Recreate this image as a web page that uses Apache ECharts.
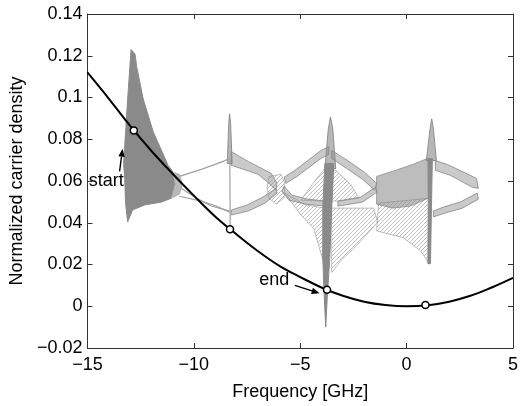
<!DOCTYPE html>
<html>
<head>
<meta charset="utf-8">
<script src="https://cdn.jsdelivr.net/npm/echarts@6/dist/echarts.min.js"></script>
<style>
  html, body { margin: 0; padding: 0; background: #fff; }
  #chart { width: 526px; height: 406px; }
</style>
</head>
<body>
<div id="chart"></div>
<script>
const FONT = '"Liberation Sans", Arial, Helvetica, sans-serif';

// ---- axis ticks ----
const xTickLabels = ['\u221215', '\u221210', '\u22125', '0', '5'];
const yTickLabels = ['\u22120.02', '0', '0.02', '0.04', '0.06', '0.08', '0.1', '0.12', '0.14'];

// ---- locking threshold curve (frequency detuning vs. carrier density) ----
const curveFreq = [-15, -14, -13, -12, -11, -10, -9, -8, -7, -6, -5, -4, -3, -2, -1, 0, 1, 2, 3, 4, 5];
const curveDensity = [0.1120, 0.0995, 0.0865, 0.0745, 0.0635, 0.0530, 0.0430, 0.0345, 0.0265, 0.0195,
                      0.0140, 0.0090, 0.0050, 0.0022, 0.0006, 0.0000, 0.0005, 0.0022, 0.0050, 0.0090, 0.0136];

// ---- operating points on the curve ----
const pointFreq = [-12.82, -8.30, -3.74, 0.885];
const pointDensity = [0.0842, 0.0369, 0.0079, 0.0006];

// ---- trajectory envelopes [frequency, density] ----
// first stage (start): dense sheet of trajectories
const startCloud = [[-12.95, 0.1230], [-12.76, 0.1207], [-12.69, 0.1150], [-12.38, 0.0993], [-11.91, 0.0836],
  [-11.21, 0.0675], [-10.96, 0.0641], [-10.87, 0.0584], [-11.05, 0.0518], [-11.52, 0.0499], [-12.32, 0.0485],
  [-12.88, 0.0461], [-13.11, 0.0404], [-13.21, 0.0494], [-13.25, 0.0613], [-13.30, 0.0684], [-13.11, 0.0993]];
const startFringe = [[-10.96, 0.0641], [-10.68, 0.0632], [-10.54, 0.0584], [-10.68, 0.0537], [-11.05, 0.0518], [-10.87, 0.0584]];

// second stage
const s2UpperLeft = [[-10.68, 0.0622], [-9.65, 0.0656], [-8.62, 0.0694], [-8.32, 0.0708]];
const s2LowerLeftA = [[-10.59, 0.0565], [-9.88, 0.0518], [-9.18, 0.0480], [-8.32, 0.0456]];
const s2LowerLeftB = [[-10.68, 0.0527], [-9.65, 0.0504], [-8.95, 0.0480], [-8.32, 0.0451]];
const s2Stem = [[-8.31, 0.0708], [-8.29, 0.0371]];
const s2Spike = [[-8.43, 0.0684], [-8.36, 0.0874], [-8.32, 0.0922], [-8.27, 0.0874], [-8.20, 0.0684]];
const s2UpperRight = [[-8.24, 0.0741], [-7.45, 0.0694], [-6.37, 0.0637], [-6.09, 0.0589], [-6.14, 0.0556],
  [-6.47, 0.0589], [-6.98, 0.0632], [-7.78, 0.0660], [-8.24, 0.0675]];
const s2LowerRight = [[-6.14, 0.0565], [-6.75, 0.0523], [-7.50, 0.0485], [-8.24, 0.0461], [-8.24, 0.0437],
  [-7.45, 0.0456], [-6.65, 0.0494], [-6.09, 0.0542]];
const knot = [[-6.47, 0.0622], [-5.90, 0.0632], [-5.72, 0.0589], [-5.76, 0.0518], [-6.14, 0.0489], [-6.47, 0.0518], [-6.56, 0.0565]];

// third stage (end)
const s3Spike = [[-3.84, 0.0660], [-3.68, 0.0850], [-3.58, 0.0907], [-3.47, 0.0850], [-3.33, 0.0660]];
const s3Stem = [[-3.84, 0.0684], [-3.94, 0.0470], [-3.94, 0.0233], [-3.87, 0.0043], [-3.80, -0.0100],
  [-3.73, 0.0043], [-3.61, 0.0233], [-3.52, 0.0470], [-3.42, 0.0684]];
const s3UpperLeft = [[-5.76, 0.0618], [-5.25, 0.0651], [-4.03, 0.0746], [-3.66, 0.0765], [-3.66, 0.0727],
  [-4.03, 0.0708], [-5.15, 0.0622], [-5.67, 0.0589]];
const s3UpperRight = [[-3.52, 0.0746], [-2.77, 0.0698], [-1.97, 0.0641], [-1.41, 0.0589], [-1.50, 0.0556],
  [-2.07, 0.0608], [-2.81, 0.0660], [-3.52, 0.0708]];
const s3LowerRight = [[-1.46, 0.0570], [-2.16, 0.0523], [-3.23, 0.0504], [-3.23, 0.0480], [-2.07, 0.0499], [-1.41, 0.0546]];
const s3LowerLeft = [[-5.76, 0.0575], [-5.39, 0.0532], [-4.64, 0.0513], [-3.84, 0.0504], [-3.84, 0.0480],
  [-4.73, 0.0489], [-5.53, 0.0508], [-5.86, 0.0551]];
const s3Bell = [[-4.97, 0.0508], [-4.36, 0.0594], [-3.84, 0.0660], [-3.33, 0.0651], [-2.63, 0.0584],
  [-2.25, 0.0518], [-3.09, 0.0504], [-4.03, 0.0504]];
const s3FunnelLeft = [[-5.72, 0.0542], [-4.97, 0.0437], [-4.36, 0.0371], [-3.94, 0.0223], [-3.84, 0.0470], [-4.73, 0.0485]];
const s3FunnelRight = [[-3.52, 0.0470], [-1.55, 0.0470], [-1.36, 0.0404], [-2.30, 0.0295], [-3.09, 0.0219], [-3.52, 0.0162]];

// fourth stage
const s4Cloud = [[-1.41, 0.0622], [-0.52, 0.0651], [0.28, 0.0679], [0.98, 0.0708], [1.03, 0.0518],
  [0.18, 0.0480], [-0.66, 0.0470], [-1.41, 0.0489]];
const s4Fan = [[-1.32, 0.0494], [-1.41, 0.0361], [-0.15, 0.0328], [0.65, 0.0266], [1.07, 0.0204], [1.12, 0.0518]];
const s4Spike = [[0.93, 0.0698], [1.10, 0.0850], [1.18, 0.0898], [1.26, 0.0850], [1.40, 0.0698]];
const s4Stem = [[1.03, 0.0708], [1.00, 0.0204], [1.12, 0.0204], [1.21, 0.0708]];
const s4RightUpper = [[1.35, 0.0698], [1.92, 0.0679], [3.28, 0.0613], [3.37, 0.0565], [3.09, 0.0570],
  [2.06, 0.0627], [1.35, 0.0651]];
const s4RightLower = [[3.32, 0.0542], [2.52, 0.0499], [1.73, 0.0475], [1.26, 0.0456], [1.26, 0.0428],
  [1.82, 0.0447], [2.62, 0.0470], [3.37, 0.0513]];

// ---- annotations ----
const startText = { text: 'start', at: [-14.94, 0.0599] };
const startArrow = { from: [-13.49, 0.0646], to: [-13.35, 0.0755] };
const endText = { text: 'end', at: [-6.93, 0.0124] };
const endArrow = { from: [-5.25, 0.0100], to: [-4.09, 0.0062] };

// hatch texture for the sparse line fans
function hatchPattern(alpha) {
  const c = document.createElement('canvas');
  c.width = 4; c.height = 4;
  const g = c.getContext('2d');
  g.strokeStyle = 'rgba(128,128,128,' + alpha + ')';
  g.lineWidth = 1;
  g.beginPath(); g.moveTo(0, 4); g.lineTo(4, 0); g.stroke();
  return { image: c, repeat: 'repeat' };
}

const STYLES = {
  dense:  { fill: '#8a8a8a', stroke: '#8a8a8a', lineWidth: 1 },
  fringe: { fill: '#b8b8b8', stroke: '#b0b0b0', lineWidth: 1 },
  mid:    { fill: 'rgba(135,135,135,0.55)', stroke: 'rgba(140,140,140,0.8)', lineWidth: 1 },
  band:   { fill: 'rgba(150,150,150,0.5)', stroke: 'rgba(140,140,140,0.85)', lineWidth: 1 },
  spike:  { fill: 'rgba(135,135,135,0.6)', stroke: 'rgba(135,135,135,0.9)', lineWidth: 1 },
  hatch:  { fill: hatchPattern(0.5), stroke: 'rgba(150,150,150,0.6)', lineWidth: 1 },
  strand: { fill: null, stroke: '#a0a0a0', lineWidth: 1.2 }
};

function shapeSeries(points, kind, open) {
  const st = STYLES[kind];
  return {
    type: 'custom', coordinateSystem: 'cartesian2d', silent: true, z: 2,
    data: points, encode: { x: 0, y: 1 },
    renderItem(params, api) {
      if (params.dataIndex !== 0) return null;
      const pts = points.map(p => api.coord(p));
      return {
        type: open ? 'polyline' : 'polygon',
        shape: { points: pts },
        style: { fill: open ? null : st.fill, stroke: st.stroke, lineWidth: st.lineWidth }
      };
    }
  };
}

function annotationSeries(label, arrow) {
  return {
    type: 'custom', coordinateSystem: 'cartesian2d', silent: true, z: 5,
    data: [label.at], encode: { x: 0, y: 1 },
    renderItem(params, api) {
      const t = api.coord(label.at);
      const a = api.coord(arrow.from);
      const b = api.coord(arrow.to);
      const dx = b[0] - a[0], dy = b[1] - a[1];
      const len = Math.hypot(dx, dy), ux = dx / len, uy = dy / len;
      const hl = 8, hw = 3.2;
      const base = [b[0] - ux * hl, b[1] - uy * hl];
      return {
        type: 'group',
        children: [
          { type: 'text', x: t[0], y: t[1],
            style: { text: label.text, fill: '#000', font: '18px ' + FONT, align: 'left', verticalAlign: 'middle' } },
          { type: 'line', shape: { x1: a[0], y1: a[1], x2: base[0], y2: base[1] },
            style: { stroke: '#000', lineWidth: 1.4 } },
          { type: 'polygon',
            shape: { points: [b, [base[0] - uy * hw, base[1] + ux * hw], [base[0] + uy * hw, base[1] - ux * hw]] },
            style: { fill: '#000' } }
        ]
      };
    }
  };
}

const polygons = [
  [startCloud, 'dense'], [startFringe, 'fringe'],
  [knot, 'hatch'],
  [s2UpperRight, 'band'], [s2LowerRight, 'band'], [s2Spike, 'spike'],
  [s3Bell, 'hatch'], [s3FunnelLeft, 'hatch'], [s3FunnelRight, 'hatch'],
  [s3UpperLeft, 'band'], [s3UpperRight, 'band'], [s3LowerRight, 'band'], [s3LowerLeft, 'band'],
  [s3Spike, 'spike'], [s3Stem, 'dense'],
  [s4Fan, 'hatch'], [s4Cloud, 'mid'],
  [s4RightUpper, 'band'], [s4RightLower, 'band'], [s4Spike, 'spike'], [s4Stem, 'dense']
];
const strands = [s2UpperLeft, s2LowerLeftA, s2LowerLeftB, s2Stem];

const series = [];
polygons.forEach(([pts, kind]) => series.push(shapeSeries(pts, kind, false)));
strands.forEach(pts => series.push(shapeSeries(pts, 'strand', true)));

series.push({
  type: 'line', z: 3, silent: true,
  data: curveFreq.map((f, i) => [f, curveDensity[i]]),
  smooth: 0.4, showSymbol: false,
  lineStyle: { color: '#000', width: 2 }
});
series.push({
  type: 'scatter', z: 4, silent: true,
  data: pointFreq.map((f, i) => [f, pointDensity[i]]),
  symbol: 'circle', symbolSize: 7,
  itemStyle: { color: '#fff', borderColor: '#000', borderWidth: 1.5, opacity: 1 }
});
series.push(annotationSeries(startText, startArrow));
series.push(annotationSeries(endText, endArrow));

const axisLine = { show: true, onZero: false, lineStyle: { color: '#333', width: 1 } };
const tick = { show: true, inside: true, length: 5, lineStyle: { color: '#333', width: 1 } };
const labelStyle = { color: '#000', fontSize: 18, fontFamily: FONT };

const chart = echarts.init(document.getElementById('chart'), null, { renderer: 'canvas' });
chart.setOption({
  animation: false,
  backgroundColor: '#fff',
  grid: { left: 86, right: 13, top: 14, bottom: 55, containLabel: false },
  xAxis: [
    { type: 'value', min: -15, max: 5, interval: 5, position: 'bottom',
      name: 'Frequency [GHz]', nameLocation: 'middle', nameGap: 35,
      nameTextStyle: labelStyle,
      axisLine, axisTick: tick, splitLine: { show: false },
      axisLabel: { ...labelStyle, margin: 8,
        formatter: v => xTickLabels[Math.round((v + 15) / 5)] } },
    { type: 'value', min: -15, max: 5, interval: 5, position: 'top',
      axisLine, axisTick: tick, splitLine: { show: false }, axisLabel: { show: false } }
  ],
  yAxis: [
    { type: 'value', min: -0.02, max: 0.14, interval: 0.02, position: 'left',
      name: 'Normalized carrier density', nameLocation: 'middle', nameGap: 55,
      nameTextStyle: labelStyle,
      axisLine, axisTick: tick, splitLine: { show: false },
      axisLabel: { ...labelStyle, margin: 5,
        formatter: v => yTickLabels[Math.round((v + 0.02) / 0.02)] } },
    { type: 'value', min: -0.02, max: 0.14, interval: 0.02, position: 'right',
      axisLine, axisTick: tick, splitLine: { show: false }, axisLabel: { show: false } }
  ],
  series
});
</script>
</body>
</html>
